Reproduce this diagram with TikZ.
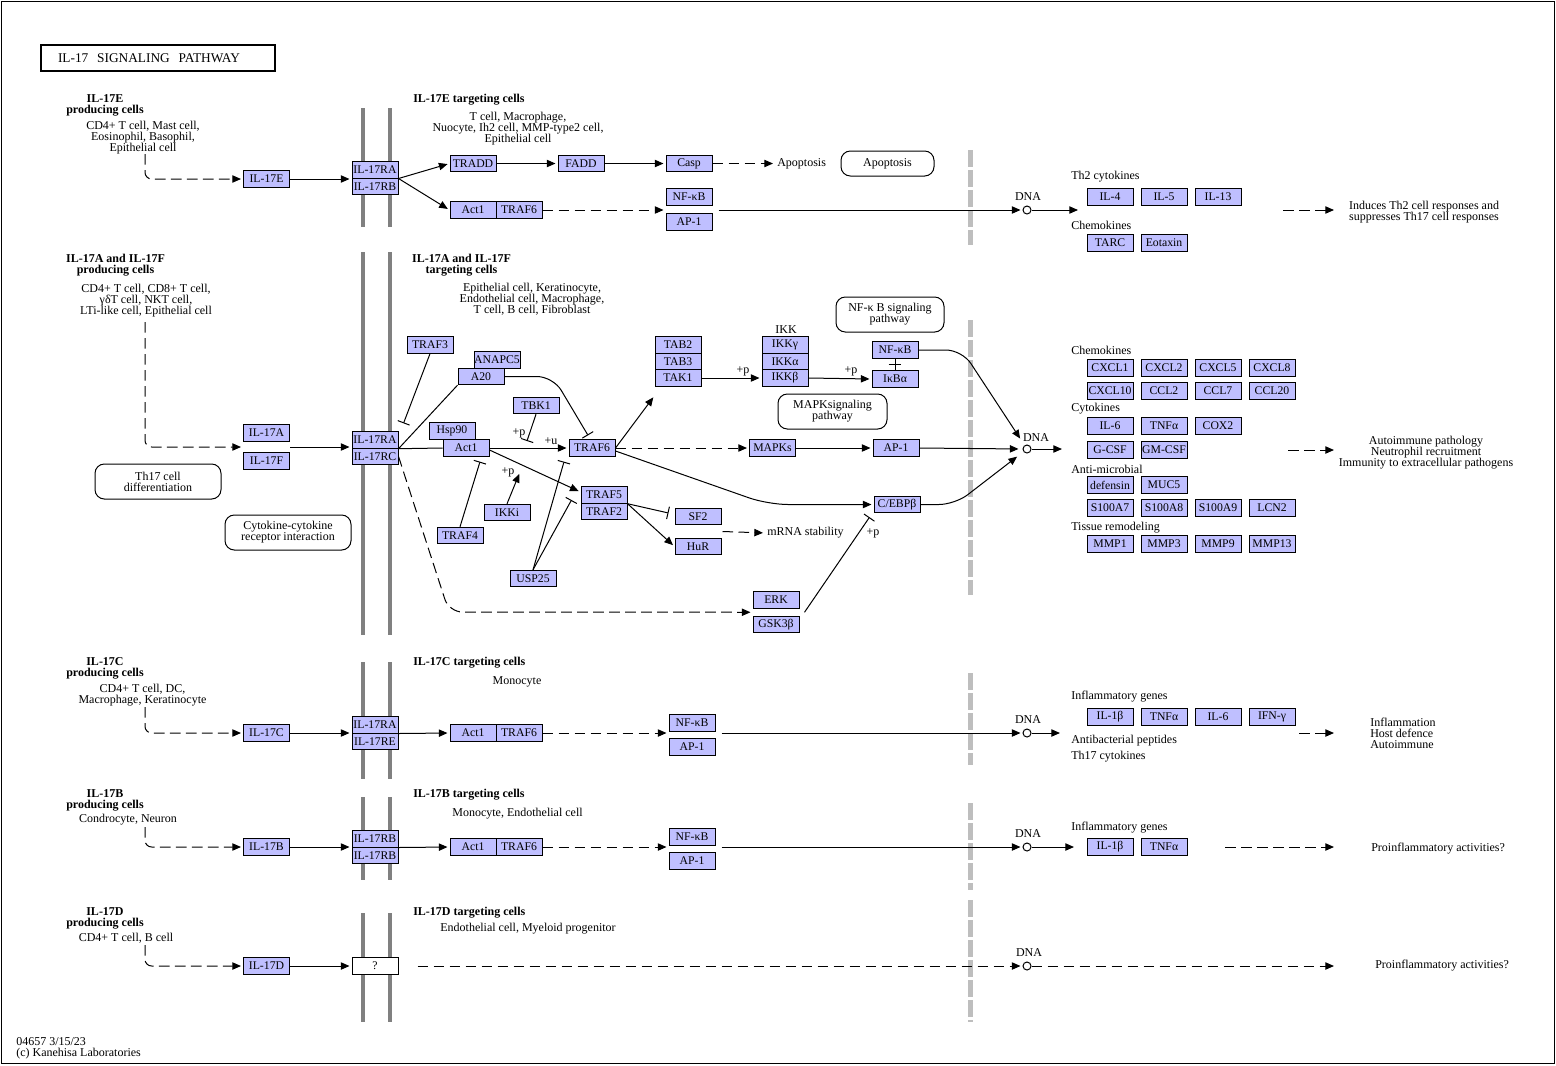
\documentclass[tikz,border=0pt]{standalone}
\usepackage{fontspec}
\setmainfont{Liberation Serif}
\usetikzlibrary{arrows.meta, calc}

\definecolor{genefill}{HTML}{BFBFFF}
\definecolor{memgray}{HTML}{808080}
\definecolor{nucgray}{HTML}{BEBEBE}

\newcommand{\fs}{\fontsize{9}{8.25}\selectfont}
\newcommand{\fsg}{\fontsize{8.8}{8.8}\selectfont}

\begin{document}
\begin{tikzpicture}[x=0.75pt, y=-0.75pt,
    every node/.style={font=\fs, inner sep=0pt},
    box/.style={draw, fill=genefill, minimum width=34.5pt, minimum height=12.3pt, font=\fsg, line width=0.75pt},
    qbox/.style={box, fill=white},
    map/.style={draw, rounded corners=7pt, align=center, line width=0.75pt, minimum height=26.25pt},
    hdr/.style={font=\fs\bfseries, align=center},
    txt/.style={align=center},
    dna/.style={draw, circle, fill=white, minimum size=6pt, line width=0.75pt},
    plain/.style={line width=0.75pt},
    act/.style={-{Triangle[length=6.5pt,width=5.5pt]}, line width=0.75pt, shorten >=1.5pt},
    dact/.style={act, dash pattern=on 8pt off 4pt},
    inh/.style={-{Bar[width=9.5pt]}, line width=0.75pt},
    mem/.style={memgray, line width=3pt},
    nuc/.style={nucgray, line width=3.75pt, dash pattern=on 12.75pt off 2.25pt},
]
\useasboundingbox (0,0) rectangle (1556,1065);
\draw[plain] (1,1) rectangle (1554,1063);

% membranes and nuclear envelope
\draw[mem] (363,108) -- (363,227) (390,108) -- (390,227);
\draw[mem] (363,252) -- (363,635) (390,252) -- (390,635);
\draw[mem] (363,662) -- (363,779) (390,662) -- (390,779);
\draw[mem] (363,797) -- (363,880) (390,797) -- (390,880);
\draw[mem] (363,913) -- (363,1022) (390,913) -- (390,1022);
\draw[nuc] (970,150) -- (970,245);
\draw[nuc] (970,320) -- (970,595);
\draw[nuc] (970,673) -- (970,765);
\draw[nuc] (970,803) -- (970,890);
\draw[nuc] (970,900) -- (970,1022);

\node[draw, line width=1.5pt, minimum width=175.5pt, minimum height=19.5pt, text width=150pt,
      inner xsep=12.75pt, align=left, font=\fontsize{10}{10}\selectfont] (title) at (158,58)
      {IL-17\ \ SIGNALING\ \ PATHWAY};

% IL-17E
\node[hdr] (e_prod) at (105,105.5) {IL-17E\\producing cells};
\node[txt] (e_cells) at (143,138) {CD4+ T cell, Mast cell,\\Eosinophil, Basophil,\\Epithelial cell};
\node[hdr, anchor=west] (e_tgt) at (413,100) {IL-17E targeting cells};
\node[txt] (e_tcells) at (518,129) {T cell, Macrophage,\\Nuocyte, Ih2 cell, MMP-type2 cell,\\Epithelial cell};
\node[box] (e_lig) at (266.5,179) {IL-17E};
\node[box] (e_ra) at (375,169.8) {IL-17RA};
\node[box] (e_rb) at (375,186.2) {IL-17RB};
\node[box] (tradd) at (473,163.5) {TRADD};
\node[box] (fadd) at (581,163.5) {FADD};
\node[box] (casp) at (689,163.5) {Casp};
\node[anchor=west] (e_apo) at (777,163.5) {Apoptosis};
\node[map, minimum width=69.75pt, minimum height=18.75pt] (apo_map) at (887.5,163.5) {Apoptosis};
\node[box] (e_act1) at (473,210) {Act1};
\node[box] (e_traf6) at (519,210) {TRAF6};
\node[box] (e_nfkb) at (689,197) {NF-κB};
\node[box] (e_ap1) at (689,222) {AP-1};
\node[dna] (e_dna) at (1027,210) {};
\node (e_dnal) at (1028,197) {DNA};
\node[anchor=west] (e_th2) at (1071,177) {Th2 cytokines};
\node[box] (il4) at (1110,197) {IL-4};
\node[box] (il5) at (1164,197) {IL-5};
\node[box] (il13) at (1218,197) {IL-13};
\node[anchor=west] (e_chem) at (1071,225) {Chemokines};
\node[box] (tarc) at (1110,243) {TARC};
\node[box] (eotaxin) at (1164,243) {Eotaxin};
\node[txt] (e_res) at (1424,212.5) {Induces Th2 cell responses and\\suppresses Th17 cell responses};

\coordinate (e_src) at (145,154);
\coordinate (e_out) at (1080,210);
\coordinate (e_resa) at (1283,210);
\coordinate (e_resb) at (1336,210);
\draw[dact, rounded corners=5pt] (e_src) |- (e_lig.west);
\draw[act] (e_lig.east) -- (e_lig.east -| e_ra.west);
\draw[act] (e_ra.south east) -- (tradd.west);
\draw[act] (e_ra.south east) -- (e_act1.west);
\draw[act] (tradd) -- (fadd);
\draw[act] (fadd) -- (casp);
\draw[dact, shorten >=3pt] (casp) -- (e_apo);
\draw[dact] (e_traf6) -- (e_traf6 -| e_nfkb.west);
\draw[act] ($(e_dna -| e_nfkb.east)+(6,0)$) -- (e_dna);
\draw[act] (e_dna) -- (e_out);
\draw[dact] (e_resa) -- (e_resb);

% IL-17A and IL-17F
\node[hdr] (a_prod) at (115.5,265.5) {IL-17A and IL-17F\\producing cells};
\node[txt] (a_cells) at (146,301) {CD4+ T cell, CD8+ T cell,\\γδT cell, NKT cell,\\LTi-like cell, Epithelial cell};
\node[hdr] (a_tgt) at (461.5,265.5) {IL-17A and IL-17F\\targeting cells};
\node[txt] (a_tcells) at (532,299) {Epithelial cell, Keratinocyte,\\Endothelial cell, Macrophage,\\T cell, B cell, Fibroblast};
\node[box] (a_lig) at (266.5,433) {IL-17A};
\node[box] (f_lig) at (266.5,461) {IL-17F};
\node[box] (a_ra) at (375,440) {IL-17RA};
\node[box] (a_rc) at (375,456.4) {IL-17RC};
\node[map, minimum width=94.5pt] (th17) at (158,481.5) {Th17 cell\\differentiation};
\node[map, minimum width=94.5pt] (ccri) at (288,532.5) {Cytokine-cytokine\\receptor interaction};
\node[box] (traf3) at (430,345) {TRAF3};
\node[box] (anapc5) at (497,360) {ANAPC5};
\node[box] (a20) at (481,376.5) {A20};
\node[box] (tbk1) at (536,405.5) {TBK1};
\node[box] (hsp90) at (452,431) {Hsp90};
\node[box] (a_act1) at (466,448) {Act1};
\node[box] (a_traf6) at (592,448) {TRAF6};
\node[box] (traf5) at (604,495) {TRAF5};
\node[box] (traf2) at (604,511.4) {TRAF2};
\node[box] (ikki) at (507,512.5) {IKKi};
\node[box] (traf4) at (460,535.5) {TRAF4};
\node[box] (usp25) at (533,578.5) {USP25};
\node[box] (sf2) at (698,516.5) {SF2};
\node[box] (hur) at (698,546.5) {HuR};
\node[anchor=west] (mrna) at (767,533) {mRNA stability};
\node[box] (tab2) at (678,345) {TAB2};
\node[box] (tab3) at (678,361.5) {TAB3};
\node[box] (tak1) at (678,378) {TAK1};
\node (ikk) at (786,330) {IKK};
\node[box] (ikkg) at (785,345) {IKKγ};
\node[box] (ikka) at (785,361.5) {IKKα};
\node[box] (ikkb) at (785,378) {IKKβ};
\node[box] (nfkb) at (895,350) {NF-κB};
\node[box] (ikba) at (895,379) {IκBα};
\node[map, minimum width=81pt] (nfkb_map) at (890,314.5) {NF-κ B signaling\\pathway};
\node[map, minimum width=81.75pt] (mapk_map) at (832.5,411.5) {MAPKsignaling\\pathway};
\node[box] (mapks) at (772.5,448) {MAPKs};
\node[box] (ap1) at (896,448) {AP-1};
\node[box] (cebpb) at (897,504.5) {C/EBPβ};
\node[box] (erk) at (776,600) {ERK};
\node[box] (gsk3b) at (776,624.5) {GSK3β};
\node[dna] (a_dna) at (1027,449) {};
\node (a_dnal) at (1036,438) {DNA};
\node (p_tbk1) at (519,433) {+p};
\node (u_act1) at (551,441) {+u};
\node (p_ikki) at (508,472) {+p};
\node (p_tak1) at (743,371) {+p};
\node (p_ikkb) at (851,371) {+p};
\node (p_erk) at (873,533) {+p};

\node[anchor=west] (a_chem) at (1071,350) {Chemokines};
\node[box] (cxcl1) at (1110,368) {CXCL1};
\node[box] (cxcl2) at (1164,368) {CXCL2};
\node[box] (cxcl5) at (1218,368) {CXCL5};
\node[box] (cxcl8) at (1272,368) {CXCL8};
\node[box] (cxcl10) at (1110,391) {CXCL10};
\node[box] (ccl2) at (1164,391) {CCL2};
\node[box] (ccl7) at (1218,391) {CCL7};
\node[box] (ccl20) at (1272,391) {CCL20};
\node[anchor=west] (a_cyto) at (1071,409) {Cytokines};
\node[box] (a_il6) at (1110,426) {IL-6};
\node[box] (a_tnfa) at (1164,426) {TNFα};
\node[box] (cox2) at (1218,426) {COX2};
\node[box] (gcsf) at (1110,450) {G-CSF};
\node[box] (gmcsf) at (1164,450) {GM-CSF};
\node[anchor=west] (a_amic) at (1071,469) {Anti-microbial};
\node[box] (defensin) at (1110,485) {defensin};
\node[box] (muc5) at (1164,485) {MUC5};
\node[box] (s100a7) at (1110,508) {S100A7};
\node[box] (s100a8) at (1164,508) {S100A8};
\node[box] (s100a9) at (1218,508) {S100A9};
\node[box] (lcn2) at (1272,508) {LCN2};
\node[anchor=west] (a_tiss) at (1071,528) {Tissue remodeling};
\node[box] (mmp1) at (1110,544) {MMP1};
\node[box] (mmp3) at (1164,544) {MMP3};
\node[box] (mmp9) at (1218,544) {MMP9};
\node[box] (mmp13) at (1272,544) {MMP13};
\node[txt] (a_res) at (1426,453) {Autoimmune pathology\\Neutrophil recruitment\\Immunity to extracellular pathogens};

\coordinate (a_src) at (145,322);
\coordinate (a_mid) at ($(a_lig.south west)!.5!(f_lig.north west)$);
\coordinate (tbk1_tgt) at (527,441);
\coordinate (ikki_tgt) at (520,472);
\coordinate (a_out) at (1064,449);
\coordinate (a_resa) at (1288,450);
\coordinate (a_resb) at (1336,450);
\draw[dact, rounded corners=5pt] (a_src) |- (a_mid);
\draw[act] (a_mid -| a_lig.east) -- (a_mid -| a_ra.west);
\draw[plain] (a_ra.south east) -- (a_act1.west);
\draw[plain] (a_ra.south east) -- (a20.south west);
\draw[inh] (traf3.south) -- ($(a_ra.north east)+(5,-8)$);
\draw[inh, rounded corners=12pt] (a20.east) -- (553,376.5) -- ($(a_traf6.north)+(-4,-4)$);
\draw[inh] (tbk1.south) -- (tbk1_tgt);
\draw[act] (a_act1.east) -- (a_traf6.west);
\draw[act] ($(a_act1.east)+(0,2)$) -- ($(traf5.west)+(0,-3)$);
\draw[inh] (traf4.north) -- ($(a_act1.south)+(14,5)$);
\draw[act] (ikki.north) -- (ikki_tgt);
\draw[inh] (usp25.north) -- ($(a_traf6.south)+(-28,5)$);
\draw[inh] (usp25.north) -- ($(traf5.west)+(-9,5)$);
\draw[act] (a_traf6.east) -- ($(tak1.south west)+(0,9)$);
\draw[dact] (a_traf6.east) -- (mapks.west);
\draw[act, rounded corners=15pt] ($(a_traf6.east)+(0,3)$) -- (768,504.5) -- (cebpb.west);
\draw[inh] (traf5.south east) -- ($(sf2.west)+(-6,-3.5)$);
\draw[act] (traf5.south east) -- (hur.west);
\draw[dact, shorten >=3pt] ($(sf2.east)!.5!(hur.east)+(1,0)$) -- (mrna.west);
\draw[act] (tak1.east) -- (ikkb.west);
\draw[act] (ikkb.east) -- (ikba.west);
\draw[plain] (ikba.north) -- (nfkb.south);
\draw[inh] (ikba.north) -- ($(nfkb.south)+(0,5)$);
\draw[act] (mapks.east) -- (ap1.west);
\draw[act, rounded corners=12pt, shorten >=6pt] (nfkb.east) -- (962,350) -- (a_dna);
\draw[act, shorten >=3pt] (ap1.east) -- (a_dna.west);
\draw[act, rounded corners=12pt, shorten >=6pt] (cebpb.east) -- (955,504.5) -- (a_dna);
\draw[dact, rounded corners=10pt] (a_rc.east) -- (449,612) -- ($(erk.south west)!.5!(gsk3b.north west)$);
\draw[inh] ($(erk.south east)!.5!(gsk3b.north east)+(5,0)$) -- ($(cebpb.south west)+(-4,4)$);
\draw[act] (a_dna) -- (a_out);
\draw[dact] (a_resa) -- (a_resb);

% IL-17C
\node[hdr] (c_prod) at (105,668.5) {IL-17C\\producing cells};
\node[txt] (c_cells) at (142.5,695.5) {CD4+ T cell, DC,\\Macrophage, Keratinocyte};
\node[hdr, anchor=west] (c_tgt) at (413,663) {IL-17C targeting cells};
\node[txt] (c_tcells) at (517,682) {Monocyte};
\node[box] (c_lig) at (266.5,733) {IL-17C};
\node[box] (c_ra) at (375,724.8) {IL-17RA};
\node[box] (c_re) at (375,741.2) {IL-17RE};
\node[box] (c_act1) at (473,733) {Act1};
\node[box] (c_traf6) at (519,733) {TRAF6};
\node[box] (c_nfkb) at (692,723) {NF-κB};
\node[box] (c_ap1) at (692,747) {AP-1};
\node[dna] (c_dna) at (1027,733) {};
\node (c_dnal) at (1028,720) {DNA};
\node[anchor=west] (c_infl) at (1071,697) {Inflammatory genes};
\node[box] (c_il1b) at (1110,717) {IL-1β};
\node[box] (c_tnfa) at (1164,717) {TNFα};
\node[box] (c_il6) at (1218,717) {IL-6};
\node[box] (c_ifng) at (1272,717) {IFN-γ};
\node[anchor=west] (c_abp) at (1071,741) {Antibacterial peptides};
\node[anchor=west] (c_th17) at (1071,757) {Th17 cytokines};
\node[anchor=west, align=left] (c_res) at (1370,733) {Inflammation\\Host defence\\Autoimmune};

\coordinate (c_src) at (145,707);
\coordinate (c_out) at (1062,733);
\coordinate (c_resa) at (1299,733);
\coordinate (c_resb) at (1336,733);
\draw[dact, rounded corners=5pt] (c_src) |- (c_lig.west);
\draw[act] (c_lig.east) -- (c_lig.east -| c_ra.west);
\draw[act] (c_ra.south east) -- (c_act1.west);
\draw[dact] (c_traf6) -- (c_traf6 -| c_nfkb.west);
\draw[act] ($(c_dna -| c_nfkb.east)+(6,0)$) -- (c_dna);
\draw[act] (c_dna) -- (c_out);
\draw[dact] (c_resa) -- (c_resb);

% IL-17B
\node[hdr] (b_prod) at (105,800.5) {IL-17B\\producing cells};
\node[txt] (b_cells) at (128,820) {Condrocyte, Neuron};
\node[hdr, anchor=west] (b_tgt) at (413,795) {IL-17B targeting cells};
\node[txt] (b_tcells) at (517.5,814) {Monocyte, Endothelial cell};
\node[box] (b_lig) at (266.5,847) {IL-17B};
\node[box] (b_rb1) at (375,838.8) {IL-17RB};
\node[box] (b_rb2) at (375,855.2) {IL-17RB};
\node[box] (b_act1) at (473,847) {Act1};
\node[box] (b_traf6) at (519,847) {TRAF6};
\node[box] (b_nfkb) at (692,837) {NF-κB};
\node[box] (b_ap1) at (692,861) {AP-1};
\node[dna] (b_dna) at (1027,847) {};
\node (b_dnal) at (1028,834) {DNA};
\node[anchor=west] (b_infl) at (1071,828) {Inflammatory genes};
\node[box] (b_il1b) at (1110,847) {IL-1β};
\node[box] (b_tnfa) at (1164,847) {TNFα};
\node[anchor=west] (b_res) at (1371,849) {Proinflammatory activities?};

\coordinate (b_src) at (145,827);
\coordinate (b_out) at (1076,847);
\coordinate (b_resa) at (1225,847);
\coordinate (b_resb) at (1336,847);
\draw[dact, rounded corners=5pt] (b_src) |- (b_lig.west);
\draw[act] (b_lig.east) -- (b_lig.east -| b_rb1.west);
\draw[act] (b_rb1.south east) -- (b_act1.west);
\draw[dact] (b_traf6) -- (b_traf6 -| b_nfkb.west);
\draw[act] ($(b_dna -| b_nfkb.east)+(6,0)$) -- (b_dna);
\draw[act] (b_dna) -- (b_out);
\draw[dact] (b_resa) -- (b_resb);

% IL-17D
\node[hdr] (d_prod) at (105,918.5) {IL-17D\\producing cells};
\node[txt] (d_cells) at (126,938) {CD4+ T cell, B cell};
\node[hdr, anchor=west] (d_tgt) at (413,913) {IL-17D targeting cells};
\node[txt] (d_tcells) at (528,929) {Endothelial cell, Myeloid progenitor};
\node[box] (d_lig) at (266.5,966) {IL-17D};
\node[qbox] (d_q) at (375,966) {?};
\node[dna] (d_dna) at (1027,966) {};
\node (d_dnal) at (1029,953) {DNA};
\node[anchor=west] (d_res) at (1375,966) {Proinflammatory activities?};

\coordinate (d_src) at (145,945);
\coordinate (d_resb) at (1336,966);
\draw[dact, rounded corners=5pt] (d_src) |- (d_lig.west);
\draw[act] (d_lig) -- (d_q);
\draw[dact] ($(d_q.east)+(19,0)$) -- (d_dna);
\draw[dact] (d_dna) -- (d_resb);

% footer
\node[anchor=west, align=left] (ver) at (16,1048.5) {04657 3/15/23\\(c) Kanehisa Laboratories};
\end{tikzpicture}
\end{document}
